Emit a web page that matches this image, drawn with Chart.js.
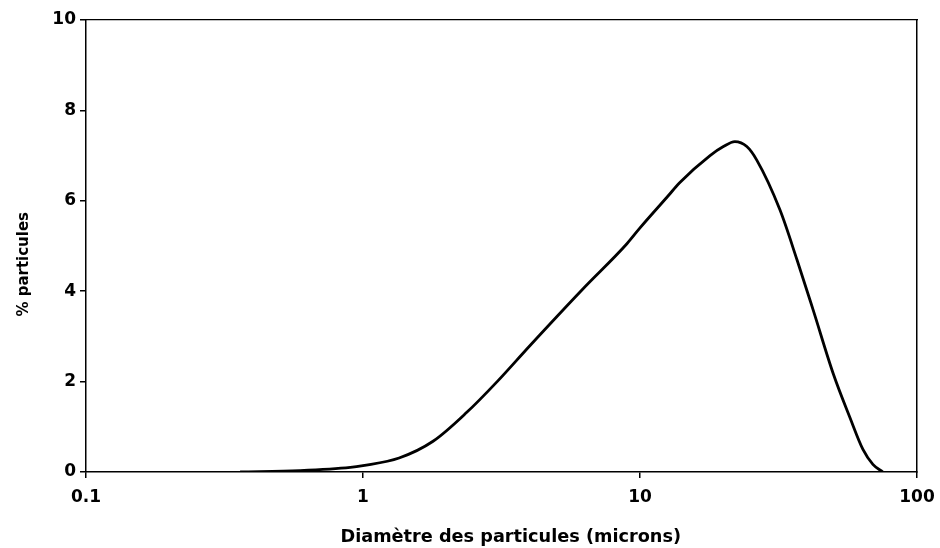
<!DOCTYPE html>
<html>
<head>
<meta charset="utf-8">
<script src="https://cdn.jsdelivr.net/npm/chart.js@4"></script>
<style>
  html, body { margin: 0; padding: 0; background: #ffffff; }
  #wrap { width: 940px; height: 548px; position: relative; }
</style>
</head>
<body>
<div id="wrap"><canvas id="c"></canvas></div>
<script>
// Particle diameter (microns) and % of particles
const diameters = [0.36, 0.59, 0.90, 1.0, 1.35, 1.79, 2.37, 3.05, 4.01, 6.22, 8.97, 10.0, 12.6, 13.9, 17.9, 20.0, 22.0, 24.3, 26.4, 32.0, 36.9, 42.2, 50.0, 57.3, 63.8, 69.3, 75.3];
const percentages = [0, 0.03, 0.10, 0.14, 0.31, 0.68, 1.32, 2.0, 2.8, 4.05, 5.05, 5.4, 6.1, 6.4, 7.0, 7.2, 7.31, 7.2, 6.9, 5.8, 4.69, 3.58, 2.15, 1.2, 0.5, 0.17, 0];
const xTickValues = [0.1, 1, 10, 100];
const xTickLabels = ['0.1', '1', '10', '100'];
const yTickValues = [0, 2, 4, 6, 8, 10];
const xTitle = 'Diamètre des particules (microns)';
const yTitle = '% particules';

const points = diameters.map((d, i) => ({ x: d, y: percentages[i] }));
const FONT = 'DejaVu Sans';
const NB = '\u00A0';

new Chart(document.getElementById('c'), {
  type: 'line',
  data: {
    datasets: [{
      data: points,
      borderColor: '#000000',
      borderWidth: 2.8,
      pointRadius: 0,
      fill: false,
      cubicInterpolationMode: 'monotone',
      xAxisID: 'x',
      yAxisID: 'y'
    }]
  },
  options: {
    responsive: true,
    maintainAspectRatio: false,
    animation: false,
    layout: { padding: { left: 0, right: 23, top: 20, bottom: 0 } },
    plugins: { legend: { display: false }, tooltip: { enabled: false } },
    scales: {
      x: {
        type: 'logarithmic',
        position: 'bottom',
        min: 0.1,
        max: 100,
        afterBuildTicks: s => { s.ticks = xTickValues.map(v => ({ value: v })); },
        afterFit: s => { s.height = 76; s.paddingLeft = 0; s.paddingRight = 0; },
        ticks: {
          autoSkip: false,
          maxRotation: 0,
          color: '#000',
          padding: 9,
          font: { family: FONT, size: 17, weight: 'bold' },
          callback: (v) => { const i = xTickValues.indexOf(v); return i >= 0 ? xTickLabels[i] : ''; }
        },
        grid: { display: true, drawOnChartArea: false, drawTicks: true, tickLength: 6, color: '#000', lineWidth: 1.5 },
        border: { display: true, color: '#000', width: 1.5 },
        title: {
          display: true,
          text: NB + NB + NB + xTitle,
          color: '#000',
          font: { family: FONT, size: 17.7, weight: 'bold' },
          padding: { top: 0, bottom: 0 }
        }
      },
      y: {
        type: 'linear',
        position: 'left',
        min: 0,
        max: 10,
        afterBuildTicks: s => { s.ticks = yTickValues.map(v => ({ value: v })); },
        afterFit: s => { s.width = 86; s.paddingTop = 0; s.paddingBottom = 0; },
        ticks: {
          color: '#000',
          padding: 4,
          font: { family: FONT, size: 17, weight: 'bold' }
        },
        grid: { display: true, drawOnChartArea: false, drawTicks: true, tickLength: 6, color: '#000', lineWidth: 1.5 },
        border: { display: true, color: '#000', width: 1.5 },
        title: {
          display: true,
          text: yTitle + NB.repeat(7),
          color: '#000',
          font: { family: FONT, size: 15, weight: 'bold' },
          padding: { top: 15, bottom: 0 }
        }
      },
      x2: {
        type: 'linear',
        position: 'top',
        min: 0, max: 1,
        afterFit: s => { s.height = 0; s.paddingLeft = 0; s.paddingRight = 0; },
        ticks: { display: false },
        grid: { display: true, drawOnChartArea: false, drawTicks: false },
        border: { display: true, color: '#000', width: 1.2 }
      },
      y2: {
        type: 'linear',
        position: 'right',
        min: 0, max: 1,
        afterFit: s => { s.width = 0; s.paddingTop = 0; s.paddingBottom = 0; },
        ticks: { display: false },
        grid: { display: true, drawOnChartArea: false, drawTicks: false },
        border: { display: true, color: '#000', width: 1.5 }
      }
    }
  }
});
</script>
</body>
</html>
